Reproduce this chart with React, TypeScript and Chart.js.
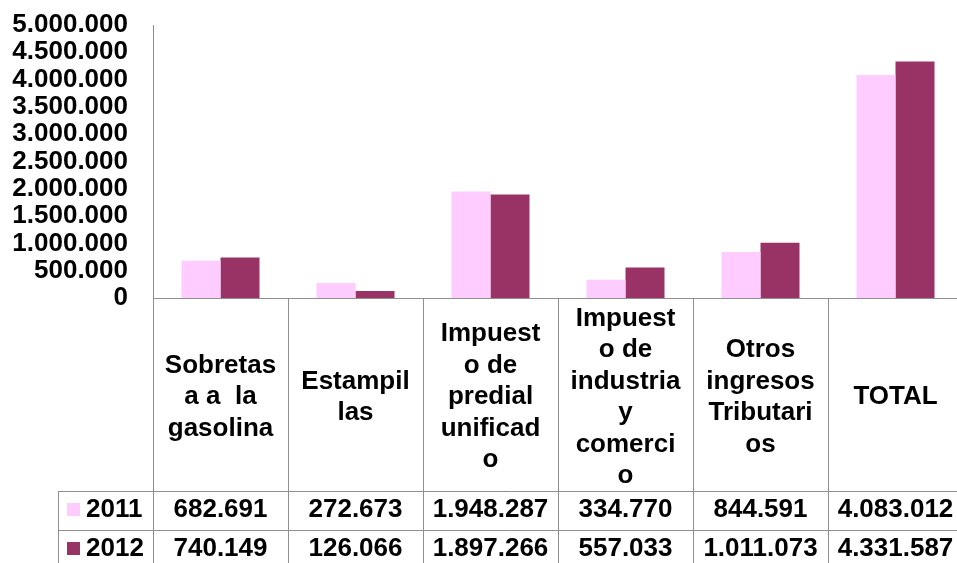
import React, { useEffect, useRef } from "react";
import { Chart, registerables } from "chart.js";

Chart.register(...registerables);

const categories: string[][] = [
  ["Sobretas", "a a  la", "gasolina"],
  ["Estampil", "las"],
  ["Impuest", "o de", "predial", "unificad", "o"],
  ["Impuest", "o de", "industria", "y", "comerci", "o"],
  ["Otros", "ingresos", "Tributari", "os"],
  ["TOTAL"],
];
const years = ["2011", "2012"];
const values2011 = [682691, 272673, 1948287, 334770, 844591, 4083012];
const values2012 = [740149, 126066, 1897266, 557033, 1011073, 4331587];
const seriesColors = ["#FFCCFF", "#993366"];
const yMax = 5000000;
const yStep = 500000;

const FONT = "'Liberation Sans', Arial, Helvetica, sans-serif";
const FONT_SIZE = 26;
const GRID = "#8f8f8f";

const fmt = (n: number) => String(Math.round(n)).replace(/\B(?=(\d{3})+(?!\d))/g, ".");

const tablePlugin = {
  id: "dataTable",
  afterDraw(chart: any) {
    const ctx = chart.ctx as CanvasRenderingContext2D;
    const area = chart.chartArea;
    const xs = chart.scales.x;
    const H = chart.height;
    const n = categories.length;
    const cw = (area.right - area.left) / n;
    const row1 = area.bottom + 193;
    const row2 = row1 + 39;
    const legendLeft = 58;
    ctx.save();
    ctx.strokeStyle = GRID;
    ctx.lineWidth = 1;
    ctx.beginPath();
    for (let k = 0; k <= n; k++) {
      const x = Math.round(area.left + k * cw) + 0.5;
      ctx.moveTo(x, area.bottom);
      ctx.lineTo(x, H);
    }
    [row1, row2].forEach((ry) => {
      const y = Math.round(ry) + 0.5;
      ctx.moveTo(legendLeft, y);
      ctx.lineTo(area.right, y);
    });
    ctx.moveTo(legendLeft + 0.5, Math.round(row1));
    ctx.lineTo(legendLeft + 0.5, H);
    ctx.stroke();

    ctx.font = `bold ${FONT_SIZE}px ${FONT}`;
    ctx.textBaseline = "middle";
    const rows = [values2011, values2012];
    rows.forEach((vals, r) => {
      const yc = (r === 0 ? row1 : row2) + 18.5;
      ctx.fillStyle = "#000";
      ctx.textAlign = "center";
      vals.forEach((v, i) => {
        ctx.fillText(fmt(v), xs.getPixelForValue(i), yc);
      });
      ctx.fillStyle = seriesColors[r];
      ctx.fillRect(67, Math.round(yc - 7), 13, 13);
      ctx.fillStyle = "#000";
      ctx.textAlign = "left";
      ctx.fillText(years[r], 86, yc);
    });
    ctx.restore();
  },
};

export default function App() {
  const ref = useRef<HTMLCanvasElement | null>(null);
  useEffect(() => {
    if (!ref.current) return;
    const chart = new Chart(ref.current, {
      type: "bar",
      data: {
        labels: categories as any,
        datasets: [
          { label: years[0], data: values2011, backgroundColor: seriesColors[0], borderWidth: 0 },
          { label: years[1], data: values2012, backgroundColor: seriesColors[1], borderWidth: 0 },
        ],
      },
      options: {
        responsive: false,
        animation: false,
        devicePixelRatio: 1,
        layout: { padding: { top: 25, bottom: 0, left: 0, right: 3 } },
        datasets: { bar: { categoryPercentage: 0.578, barPercentage: 1 } },
        plugins: { legend: { display: false }, tooltip: { enabled: false } },
        scales: {
          x: {
            grid: { display: false, drawTicks: false, tickLength: 0 },
            border: { display: true, color: GRID, width: 1 },
            ticks: {
              color: "#000",
              font: { family: FONT, size: FONT_SIZE, weight: "bold", lineHeight: 31.5 / FONT_SIZE },
              crossAlign: "center",
              padding: 20.5,
              maxRotation: 0,
              minRotation: 0,
              autoSkip: false,
            },
            afterFit: (s: any) => {
              s.height = 265;
              s.paddingTop = 0;
              s.paddingBottom = 0;
            },
          },
          y: {
            min: 0,
            max: yMax,
            grid: { display: false, drawTicks: false, tickLength: 0 },
            border: { display: true, color: GRID, width: 1 },
            ticks: {
              stepSize: yStep,
              autoSkip: false,
              padding: 25,
              color: "#000",
              font: { family: FONT, size: FONT_SIZE, weight: "bold" },
              callback: (v: any) => fmt(Number(v)),
            },
            afterFit: (s: any) => {
              s.width = 153;
              s.paddingTop = 0;
              s.paddingBottom = 0;
            },
          },
        },
      } as any,
      plugins: [tablePlugin],
    });
    return () => chart.destroy();
  }, []);
  return (
    <div
      style={{
        position: "fixed",
        left: 0,
        top: 0,
        width: 957,
        height: 563,
        overflow: "hidden",
        background: "#fff",
      }}
    >
      <canvas ref={ref} width={966} height={563} style={{ display: "block" }} />
    </div>
  );
}
